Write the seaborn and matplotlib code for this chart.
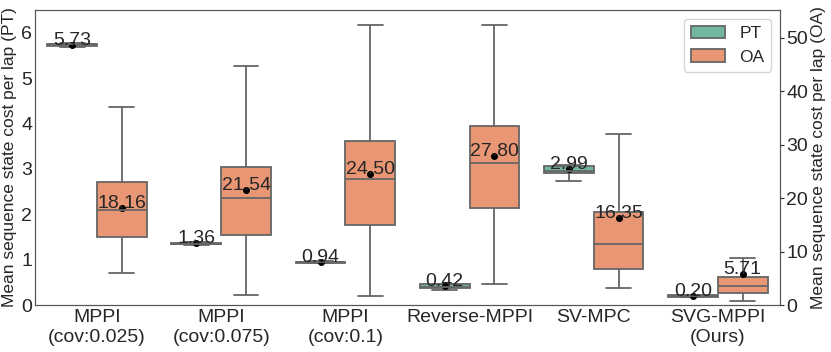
import numpy as np
import pandas as pd
import matplotlib
matplotlib.use("Agg")
import matplotlib.pyplot as plt
import seaborn as sns

methods = [
    "MPPI\n(cov:0.025)",
    "MPPI\n(cov:0.075)",
    "MPPI\n(cov:0.1)",
    "Reverse-MPPI",
    "SV-MPC",
    "SVG-MPPI\n(Ours)",
]
hue_order = ["PT", "OA"]

# box stats: whisker low, Q1, median, Q3, whisker high
pt_samples = [
    [5.69, 5.71, 5.74, 5.76, 5.77],
    [1.33, 1.34, 1.35, 1.37, 1.38],
    [0.92, 0.93, 0.94, 0.95, 0.96],
    [0.32, 0.37, 0.40, 0.46, 0.47],
    [2.73, 2.91, 2.96, 3.07, 3.08],
    [0.17, 0.18, 0.19, 0.21, 0.22],
]
oa_samples = [
    [5.93, 12.66, 17.77, 23.06, 37.1],
    [1.87, 13.15, 20.07, 25.87, 44.8],
    [1.74, 14.96, 23.62, 30.73, 52.4],
    [3.98, 18.08, 26.5, 33.48, 52.37],
    [3.18, 6.68, 11.47, 17.45, 32.05],
    [0.75, 2.3, 3.55, 5.3, 8.85],
]
pt_means = [5.73, 1.36, 0.94, 0.42, 2.99, 0.20]
oa_means = [18.16, 21.54, 24.50, 27.80, 16.35, 5.71]


def long_frame(samples, metric):
    rows = [(m, metric, v) for m, vals in zip(methods, samples) for v in vals]
    return pd.DataFrame(rows, columns=["method", "metric", "value"])


pt_df = long_frame(pt_samples, "PT")
oa_df = long_frame(oa_samples, "OA")
pt_mean_df = pd.DataFrame({"method": methods, "metric": "PT", "value": pt_means})
oa_mean_df = pd.DataFrame({"method": methods, "metric": "OA", "value": oa_means})

sns.set_style("white")
plt.rcParams["font.family"] = ["Liberation Sans", "DejaVu Sans"]

colors = sns.color_palette("Set2", 2)
palette = {"PT": colors[0], "OA": colors[1]}
black = {"PT": "black", "OA": "black"}

fig, ax = plt.subplots(figsize=(8.31, 3.52), dpi=100)
ax2 = ax.twinx()

box_kws = dict(x="method", y="value", hue="metric", hue_order=hue_order,
               order=methods, palette=palette, whis=(0, 100), width=0.8,
               dodge=True, linecolor="#666666", linewidth=1.3)
sns.boxplot(data=pt_df, ax=ax, legend=False, **box_kws)
sns.boxplot(data=oa_df, ax=ax2, **box_kws)

pt_kws = dict(x="method", y="value", hue="metric", hue_order=hue_order,
              order=methods, palette=black, dodge=0.4, linestyle="none",
              marker="o", markersize=3, errorbar=None, legend=False)
sns.pointplot(data=pt_mean_df, ax=ax, **pt_kws)
sns.pointplot(data=oa_mean_df, ax=ax2, **pt_kws)

for i, (p, o) in enumerate(zip(pt_means, oa_means)):
    ax.text(i - 0.2, p, f"{p:.2f}", ha="center", va="baseline", fontsize=14, color="#262626")
    ax2.text(i + 0.2, o, f"{o:.2f}", ha="center", va="baseline", fontsize=14, color="#262626")

ax.set_ylim(0, 6.5)
ax2.set_ylim(0, 55.2)
ax.set_xlabel("")
ax.set_ylabel("Mean sequence state cost per lap (PT)", fontsize=12.5, labelpad=3)
ax2.set_ylabel("Mean sequence state cost per lap (OA)", fontsize=12.5, labelpad=2)
ax.tick_params(axis="y", left=False, length=0, labelsize=14, pad=2)
ax.tick_params(axis="x", bottom=False, length=0, labelsize=14, pad=3)
ax2.tick_params(axis="y", right=True, length=3, labelsize=14, pad=1.5)
for a in (ax, ax2):
    for s in a.spines.values():
        s.set_color("#555555")

sns.move_legend(ax2, "upper right", title=None, fontsize=12.5)

fig.subplots_adjust(left=0.042, right=0.9386, top=0.9716, bottom=0.1335)
fig.savefig("out.png", dpi=100)
